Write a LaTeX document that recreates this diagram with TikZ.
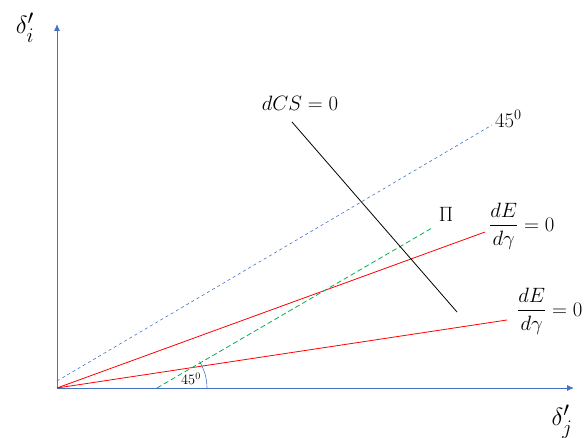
\documentclass[tikz,border=0pt]{standalone}
\usepackage{amsmath}
\usetikzlibrary{arrows.meta,calc}
\definecolor{axisblue}{RGB}{68,114,196}
\definecolor{pigreen}{RGB}{0,176,80}
\tikzset{
  axis/.style={draw=axisblue, line width=0.9pt, -{Latex[length=7pt,width=6pt]}},
  redline/.style={draw=red, line width=0.8pt},
  lbl/.style={font=\fontsize{20.5}{24}\selectfont, inner sep=0pt},
  biglbl/.style={font=\fontsize{28}{32}\selectfont, inner sep=0pt}
}
\begin{document}
\begin{tikzpicture}[x=1pt,y=-1pt]
\useasboundingbox (0,0) rectangle (584,438);
\coordinate (O) at (57,388);
\coordinate (ytop) at (57,24);
\coordinate (xend) at (574,388);
\draw[axis] (O) -- (ytop);
\draw[axis] (O) -- (xend);
\node[biglbl] (di) at (25,28) {$\delta_i'$};
\node[biglbl] (dj) at (562,422) {$\delta_j'$};
% 45 degree line
\coordinate (b0) at (57,381);
\coordinate (b1) at (492,125);
\draw[axisblue, dashed, line width=0.6pt] (b0) -- (b1);
\node[lbl, anchor=west] (l45) at (495,119) {$45^0$};
% red lines
\coordinate (r1) at (485,232);
\coordinate (r2) at (507,320);
\draw[redline] (O) -- (r1);
\draw[redline] (O) -- (r2);
\node[lbl, anchor=west] (f1) at (489,226) {$\dfrac{dE}{d\gamma}=0$};
\node[lbl, anchor=west] (f2) at (517,311) {$\dfrac{dE}{d\gamma}=0$};
% green
\coordinate (g0) at (157,388);
\coordinate (g1) at (432,228);
\draw[pigreen, dashed, dash pattern=on 5pt off 3pt, line width=0.8pt] (g0) -- (g1);
\node[lbl] (pi) at (446,214) {$\Pi$};
\draw[axisblue, line width=0.6pt] ($(g0)+(50,0)$) arc[start angle=0,end angle=-32,radius=50];
\node[font=\fontsize{14.5}{17}\selectfont, inner sep=0pt] (a45) at (191,379) {$45^0$};
% black line
\coordinate (c0) at (292,122);
\coordinate (c1) at (457,312);
\draw[black, line width=0.8pt] (c0) -- (c1);
\node[lbl] (dcs) at (300,103) {$dCS=0$};
\end{tikzpicture}
\end{document}
